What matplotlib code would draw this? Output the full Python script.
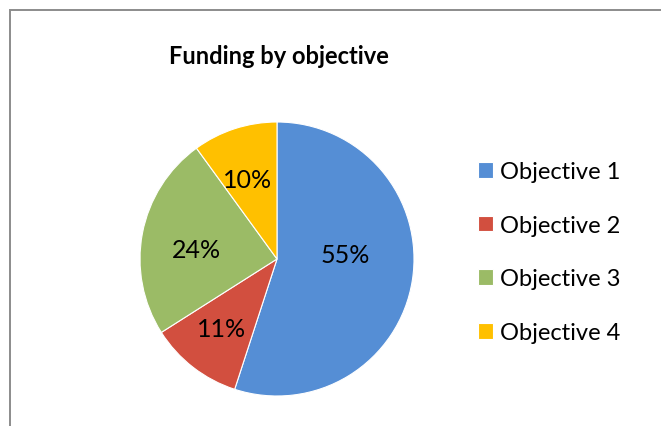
import numpy as np
import matplotlib.pyplot as plt
from matplotlib.patches import Rectangle

plt.rcParams['font.family'] = ['Lato', 'DejaVu Sans']

objectives = ['Objective 1', 'Objective 2', 'Objective 3', 'Objective 4']
shares = [55, 11, 24, 10]
colors = ['#558ED5', '#D24F3F', '#9BBB66', '#FFC000']
# Excel "best fit" puts labels at slightly different radii / angles
label_dist = [0.5, 0.65, 0.59, 0.62]
label_turn = [13, -1, 4, 2]

W, H = 661, 427
fig = plt.figure(figsize=(W / 100, H / 100), dpi=100)

# chart area border (only left and top edges are visible in the crop)
fig.patches.append(Rectangle((10 / W, -0.2), 2.0, 1.2 - 10.5 / H,
                             transform=fig.transFigure, fill=False,
                             edgecolor='#8c8c8c', linewidth=1.4))

cx, cy, r = 277, 260, 137
ax = fig.add_axes([(cx - r) / W, (H - cy - r) / H, 2 * r / W, 2 * r / H])
wedges, _ = ax.pie(shares, colors=colors, startangle=90, counterclock=False,
                   radius=1, wedgeprops=dict(edgecolor='white', linewidth=0.8))
ax.set_xlim(-1, 1)
ax.set_ylim(-1, 1)
ax.set_aspect('auto')
ax.axis('off')

for w, v, d, t in zip(wedges, shares, label_dist, label_turn):
    ang = np.deg2rad((w.theta1 + w.theta2) / 2 + t)
    ax.text(d * np.cos(ang), d * np.sin(ang), f'{v}%', ha='center',
            va='center', fontsize=18, color='black')

fig.text(279 / W, 1 - 56 / H, 'Funding by objective', ha='center',
         va='center', fontsize=17, fontweight='bold')

fig.legend(wedges, objectives, loc='upper left',
           bbox_to_anchor=(457 / W, 1 - 141 / H), frameon=False,
           fontsize=17, handlelength=0.64, handleheight=0.64,
           handletextpad=0.3, labelspacing=1.38)

fig.savefig('out.png', dpi=100)
